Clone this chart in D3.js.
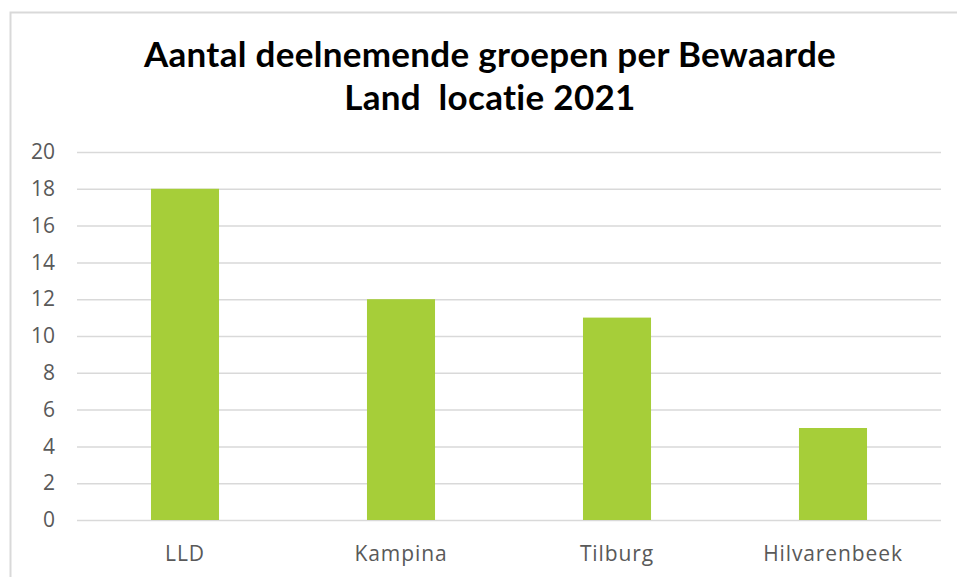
<!DOCTYPE html>
<html>
<head>
<meta charset="utf-8">
<script src="https://cdn.jsdelivr.net/npm/d3@7"></script>
<style>
  body { margin: 0; background: #fff; }
  text { font-family: "Open Sans", "Noto Sans", sans-serif; }
</style>
</head>
<body>
<div id="chart"></div>
<script>
// Data
const categories = ["LLD", "Kampina", "Tilburg", "Hilvarenbeek"];
const values = [18, 12, 11, 5];
const yTicks = [0, 2, 4, 6, 8, 10, 12, 14, 16, 18, 20];
const titleLines = ["Aantal deelnemende groepen per Bewaarde", "Land  locatie 2021"];

const W = 957, H = 577;
const margin = { top: 152, right: 16, bottom: 57, left: 77 };
const width = W - margin.left - margin.right;
const height = H - margin.top - margin.bottom;

const svg = d3.select("#chart")
  .append("svg")
  .attr("width", W)
  .attr("height", H);

// chart frame
svg.append("rect")
  .attr("x", 10.5).attr("y", 12.5)
  .attr("width", 960).attr("height", 600)
  .attr("fill", "none")
  .attr("stroke", "#d9d9d9")
  .attr("stroke-width", 2);

// Title
svg.append("text")
  .attr("text-anchor", "middle")
  .style("font-family", "Lato, 'Open Sans', sans-serif")
  .style("font-size", "35px")
  .style("letter-spacing", "0.3px")
  .style("font-variant-ligatures", "none")
  .style("font-weight", "bold")
  .style("fill", "#000")
  .selectAll("tspan")
  .data(titleLines)
  .enter().append("tspan")
  .attr("x", 490)
  .attr("y", (d, i) => 67 + i * 43)
  .style("white-space", "pre")
  .text(d => d);

const g = svg.append("g")
  .attr("transform", "translate(" + margin.left + "," + margin.top + ")");

const x = d3.scaleBand().domain(categories).range([0, width]).paddingInner(0.685).paddingOuter(0.3425);
const y = d3.scaleLinear().domain([0, 20]).range([height, 0]);

// gridlines
g.append("g")
  .selectAll("line")
  .data(yTicks)
  .enter().append("line")
  .attr("x1", 0).attr("x2", width)
  .attr("y1", d => y(d) + 0.5).attr("y2", d => y(d) + 0.5)
  .attr("stroke", "#d9d9d9")
  .attr("stroke-width", 1.5);

// Y axis labels
const yAxis = g.append("g")
  .call(d3.axisLeft(y).tickValues(yTicks).tickSize(0).tickPadding(22));
yAxis.select(".domain").remove();
yAxis.selectAll("text")
  .style("font-size", "21px")
  .style("fill", "#595959")
  .style("font-family", "'Open Sans', sans-serif");

// Bars
g.selectAll("rect.bar")
  .data(values)
  .enter().append("rect")
  .attr("class", "bar")
  .attr("x", (d, i) => x(categories[i]))
  .attr("y", d => y(d))
  .attr("width", x.bandwidth())
  .attr("height", d => height - y(d))
  .attr("fill", "#a6ce39");

// X axis labels
const xAxis = g.append("g")
  .attr("transform", "translate(0," + height + ")")
  .call(d3.axisBottom(x).tickSize(0).tickPadding(26));
xAxis.select(".domain").remove();
xAxis.selectAll("text")
  .style("font-size", "21px")
  .style("letter-spacing", "0.9px")
  .style("fill", "#595959")
  .style("font-family", "'Open Sans', sans-serif");
</script>
</body>
</html>
